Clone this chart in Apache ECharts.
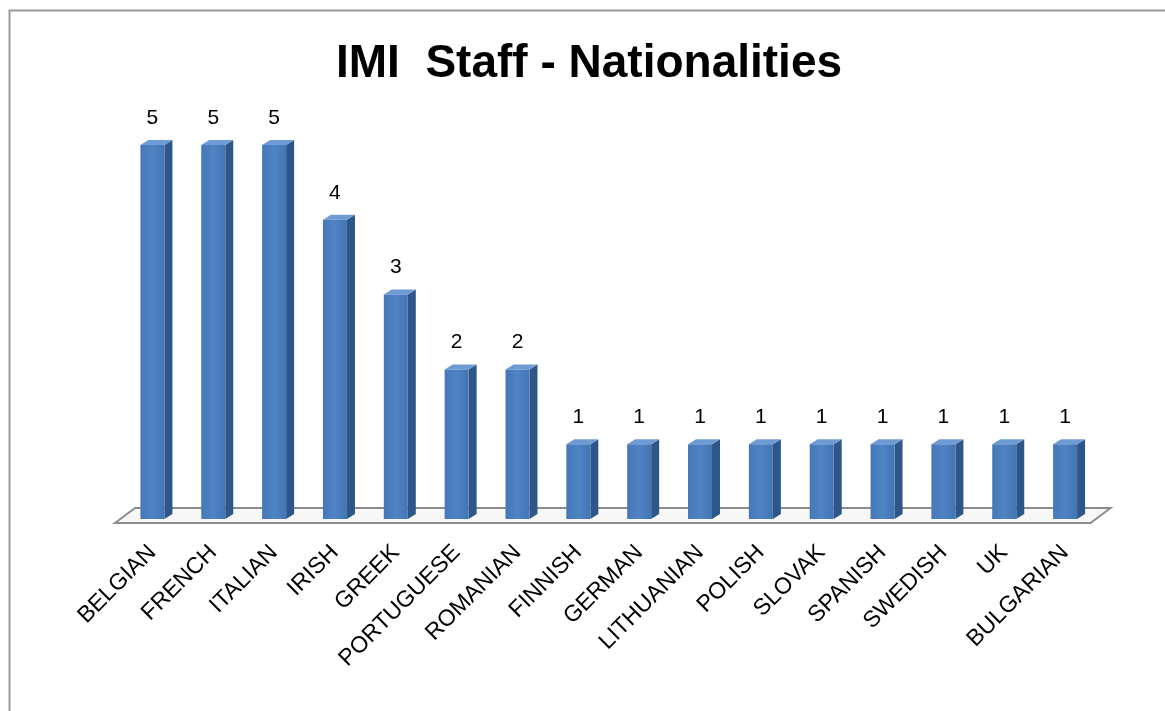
<!DOCTYPE html>
<html>
<head>
<meta charset="utf-8">
<script src="https://cdn.jsdelivr.net/npm/echarts@6/dist/echarts.min.js"></script>
<style>
html,body{margin:0;padding:0;background:#fff;}
#chart{width:1165px;height:711px;}
</style>
</head>
<body>
<div id="chart"></div>
<script>
const titleText = 'IMI  Staff - Nationalities';
const categories = ['BELGIAN','FRENCH','ITALIAN','IRISH','GREEK','PORTUGUESE','ROMANIAN','FINNISH','GERMAN','LITHUANIAN','POLISH','SLOVAK','SPANISH','SWEDISH','UK','BULGARIAN'];
const staffCount = [5,5,5,4,3,2,2,1,1,1,1,1,1,1,1,1];

const SIDE = '#2d5689';
const TOP = '#6f9bd4';

function renderBar(params, api) {
  const topPt = api.coord([api.value(0), api.value(1)]);
  const basePt = api.coord([api.value(0), 0]);
  const w = 24, dx = 8, dy = 5;
  const l = topPt[0] - w / 2, r = topPt[0] + w / 2;
  const t = topPt[1], b = basePt[1];
  return {
    type: 'group',
    children: [
      {type: 'polygon', shape: {points: [[r, t], [r + dx, t - dy], [r + dx, b - dy], [r, b]]}, style: {fill: SIDE}},
      {type: 'polygon', shape: {points: [[l, t], [l + dx, t - dy], [r + dx, t - dy], [r, t]]}, style: {fill: TOP}},
      {type: 'rect', shape: {x: l, y: t, width: w, height: b - t},
        style: {fill: new echarts.graphic.LinearGradient(0, 0, 1, 0, [{offset: 0, color: '#4678b8'}, {offset: 0.5, color: '#4f83c3'}, {offset: 1, color: '#4375b3'}])}},
      {type: 'text', style: {text: String(api.value(1)), x: topPt[0], y: t - 27, align: 'center', verticalAlign: 'middle', font: '21px "Liberation Sans", Arial, sans-serif', fill: '#000'}}
    ]
  };
}

function renderFloor(params, api) {
  const cs = params.coordSys;
  const y0 = cs.y + cs.height + 4;
  const x0 = cs.x - 7, x1 = cs.x + cs.width - 5;
  const dx = 20, dy = 15;
  return {
    type: 'polygon',
    shape: {points: [[x0, y0], [x0 + dx, y0 - dy], [x1 + dx, y0 - dy], [x1, y0]]},
    style: {fill: '#f7f7f7', stroke: '#8c8c8c', lineWidth: 2}
  };
}

const chart = echarts.init(document.getElementById('chart'));
chart.setOption({
  backgroundColor: '#fff',
  animation: false,
  title: {
    text: titleText, left: 331, top: 36,
    textStyle: {fontSize: 46, fontWeight: 'bold', color: '#000', fontFamily: '"Liberation Sans", Arial, sans-serif'}
  },
  graphic: [{
    type: 'rect', left: 7, top: 8, shape: {x: 0, y: 0, width: 1200, height: 760},
    style: {fill: 'none', stroke: '#9a9a9a', lineWidth: 2}, silent: true
  }],
  grid: {left: 122, right: 69.5, top: 145, bottom: 192, containLabel: false},
  xAxis: {
    type: 'category', data: categories,
    axisLine: {show: false}, axisTick: {show: false},
    axisLabel: {rotate: 45, margin: 30, interval: 0, fontSize: 23, color: '#000', fontFamily: '"Liberation Sans", Arial, sans-serif'}
  },
  yAxis: {type: 'value', min: 0, max: 5, show: false, splitLine: {show: false}},
  series: [
    {type: 'custom', name: 'floor', renderItem: renderFloor, data: [[0, 0]], z: 1, silent: true},
    {type: 'custom', name: 'Staff', renderItem: renderBar, data: staffCount.map((v, i) => [i, v]), encode: {x: 0, y: 1}, z: 2}
  ]
});
</script>
</body>
</html>
